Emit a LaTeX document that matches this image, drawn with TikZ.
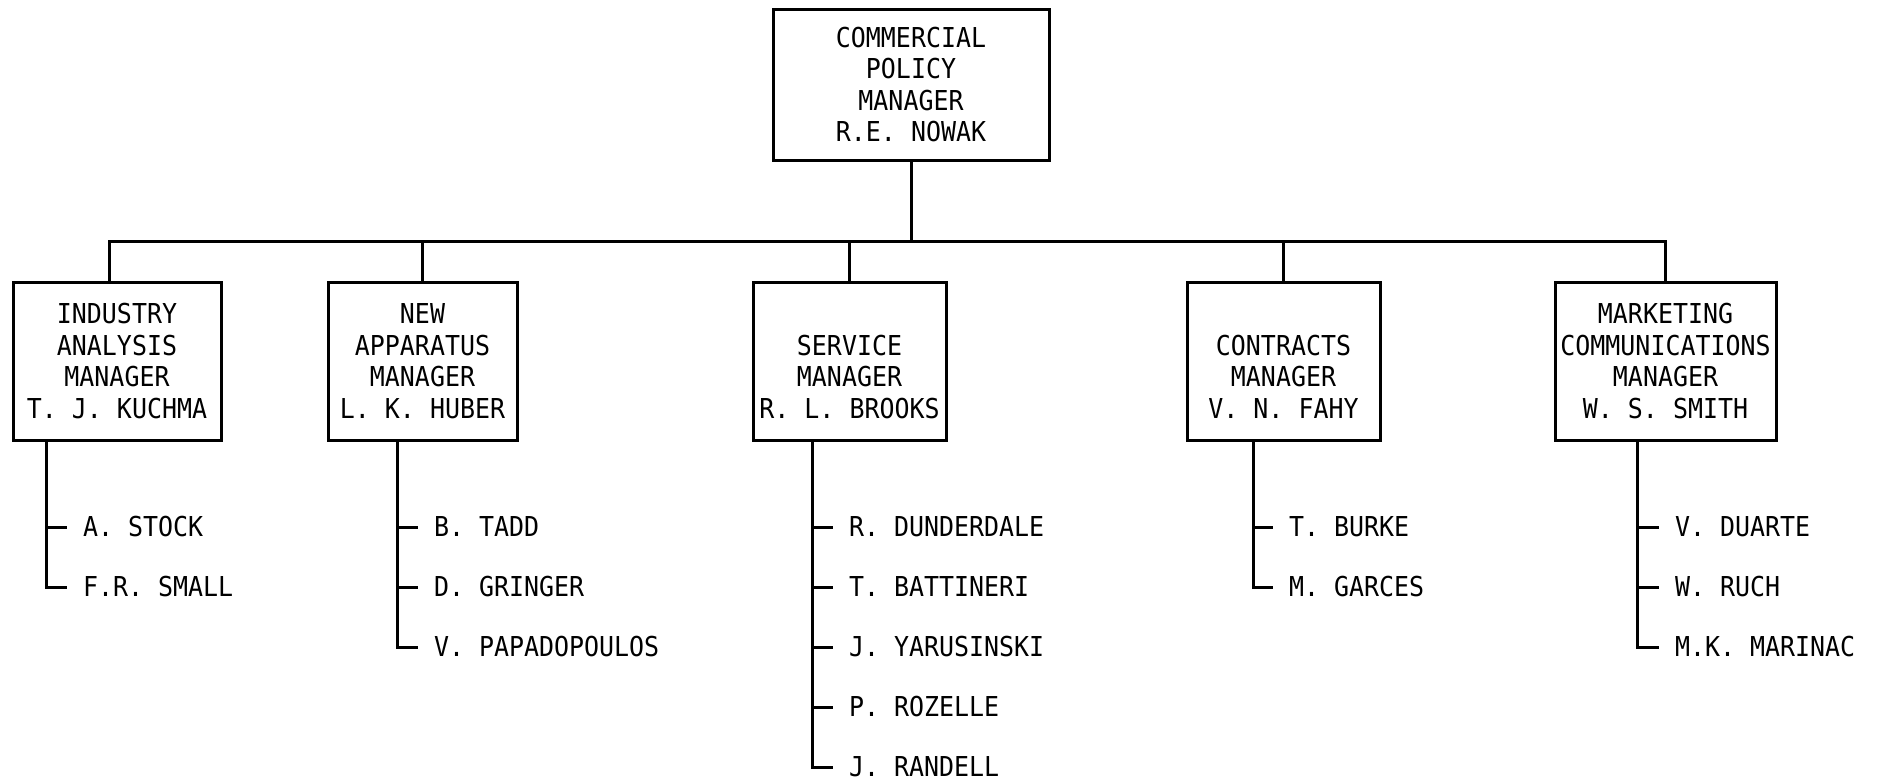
\documentclass[tikz,border=0pt]{standalone}
\usepackage{fontspec}
\newfontfamily\twfont[FakeStretch=0.91]{DejaVu Sans Mono}
\newcommand\mycapstrut{\rule{0pt}{20pt}}
\begin{document}
\begin{tikzpicture}[x=1pt,y=-1pt,line width=3pt,
  txt/.style={font=\twfont\fontsize{27.4}{31.5}\selectfont},
  box/.style={txt,draw,inner sep=0pt,outer sep=0pt,align=center,minimum height=158pt},
  member/.style={txt,inner sep=0pt,outer sep=0pt,anchor=west},
  wire/.style={line width=3pt}]
\useasboundingbox (0,0) rectangle (1895,782);
% boxes
\node[box,minimum width=276pt,minimum height=151pt] (top) at (911,84.5)
  {\mycapstrut COMMERCIAL\\POLICY\\MANAGER\\R.E. NOWAK};
\node[box,minimum width=208pt] (b1) at (117,361)
  {\mycapstrut INDUSTRY\\ANALYSIS\\MANAGER\\T. J. KUCHMA};
\node[box,minimum width=189pt] (b2) at (422.5,361)
  {\mycapstrut NEW\\APPARATUS\\MANAGER\\L. K. HUBER};
\node[box,minimum width=193pt] (b3) at (849.5,361)
  {\mycapstrut\\SERVICE\\MANAGER\\R. L. BROOKS};
\node[box,minimum width=193pt] (b4) at (1283.5,361)
  {\mycapstrut\\CONTRACTS\\MANAGER\\V. N. FAHY};
\node[box,minimum width=221pt] (b5) at (1665.5,361)
  {\mycapstrut MARKETING\\COMMUNICATIONS\\MANAGER\\W. S. SMITH};
% bus
\coordinate (bus) at (911,241);
\draw[wire] (top.south) -- (bus);
\draw[wire] ([xshift=-8pt]b1.north) |- (bus) -| (b5.north);
\draw[wire] (b2.north) -- (b2.north |- bus);
\draw[wire] (b3.north) -- (b3.north |- bus);
\draw[wire] (b4.north) -- (b4.north |- bus);
% spines
\coordinate (s1) at (46,440);
\coordinate (s2) at (397,440);
\coordinate (s3) at (812,440);
\coordinate (s4) at (1253,440);
\coordinate (s5) at (1637,440);
% members
\node[member] (m11) at (83,527) {A. STOCK};
\node[member] (m12) at (83,587) {F.R. SMALL};
\node[member] (m21) at (434,527) {B. TADD};
\node[member] (m22) at (434,587) {D. GRINGER};
\node[member] (m23) at (434,647) {V. PAPADOPOULOS};
\node[member] (m31) at (849,527) {R. DUNDERDALE};
\node[member] (m32) at (849,587) {T. BATTINERI};
\node[member] (m33) at (849,647) {J. YARUSINSKI};
\node[member] (m34) at (849,707) {P. ROZELLE};
\node[member] (m35) at (849,767) {J. RANDELL};
\node[member] (m41) at (1289,527) {T. BURKE};
\node[member] (m42) at (1289,587) {M. GARCES};
\node[member] (m51) at (1675,527) {V. DUARTE};
\node[member] (m52) at (1675,587) {W. RUCH};
\node[member] (m53) at (1675,647) {M.K. MARINAC};
% ticks
\foreach \s/\m in {s1/m11,s1/m12,s2/m21,s2/m22,s2/m23,s3/m31,s3/m32,s3/m33,s3/m34,s3/m35,s4/m41,s4/m42,s5/m51,s5/m52,s5/m53}
  \draw[wire] (\s) |- ([xshift=-16pt]\m.west);
\end{tikzpicture}
\end{document}
